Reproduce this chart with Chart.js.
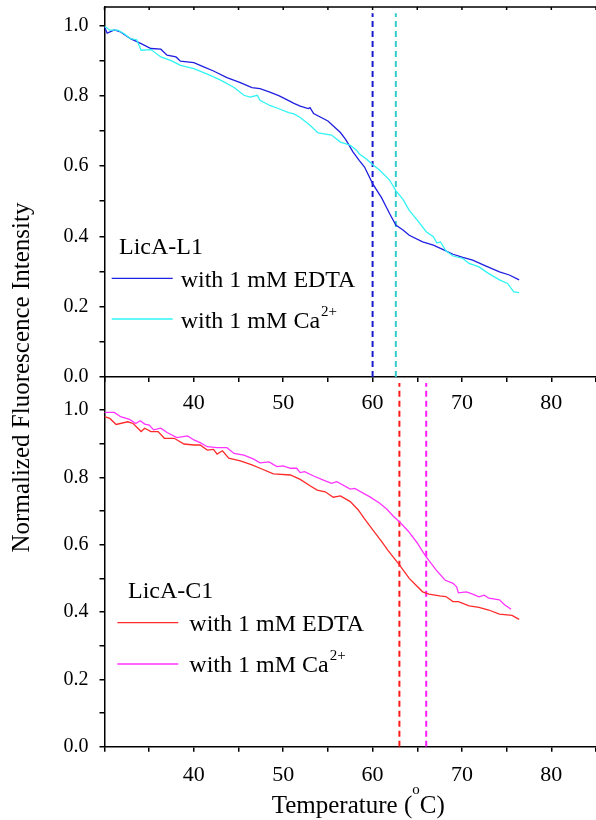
<!DOCTYPE html>
<html>
<head>
<meta charset="utf-8">
<script src="https://cdn.jsdelivr.net/npm/chart.js@4.4.1/dist/chart.umd.min.js"></script>
<style>
  html, body { margin: 0; padding: 0; background: #fff; }
  #wrap { position: relative; width: 596px; height: 820px; }
  #wrap canvas { position: absolute; left: 0; top: 0; }
</style>
</head>
<body>
<div id="wrap">
  <canvas id="bottomChart" width="596" height="820"></canvas>
  <canvas id="topChart" width="596" height="820"></canvas>
</div>
<script>
// LicA-L1, with 1 mM EDTA
const tempL1Edta = [30.0, 30.3, 31.1, 31.8, 32.9, 34.1, 35.2, 36.3, 37.0, 38.0, 38.5, 40.0, 41.1, 42.2, 43.7, 45.2, 46.5, 47.4,
  48.5, 49.5, 50.5, 51.2, 51.9, 52.8, 53.0, 53.4, 55.0, 56.4, 57.0, 57.8, 58.5, 59.1, 60.0, 61.0, 61.9, 62.6, 63.4, 64.1,
  65.6, 66.8, 67.9, 69.0, 70.1, 71.2, 72.7, 74.2, 75.3, 76.4];
const fluoL1Edta = [0.995, 0.978, 0.987, 0.981, 0.962, 0.948, 0.934, 0.932, 0.915, 0.910, 0.898, 0.894, 0.882, 0.870, 0.851, 0.837, 0.823, 0.820,
  0.810, 0.800, 0.787, 0.778, 0.770, 0.763, 0.766, 0.749, 0.728, 0.695, 0.675, 0.640, 0.616, 0.597, 0.550, 0.510, 0.465, 0.432, 0.418, 0.403,
  0.384, 0.375, 0.362, 0.349, 0.340, 0.332, 0.315, 0.299, 0.290, 0.276];

// LicA-L1, with 1 mM Ca2+
const tempL1Ca = [30.0, 30.6, 31.5, 32.2, 32.9, 33.6, 34.1, 35.2, 36.3, 37.4, 38.5, 40.0, 41.5, 43.0, 44.5, 45.6, 46.3, 47.1, 47.4,
  48.5, 49.6, 50.6, 51.2, 51.9, 53.0, 53.9, 55.4, 56.4, 57.5, 58.2, 58.5, 59.3, 60.0, 60.8, 61.9, 62.6, 63.4, 64.1, 65.0,
  66.0, 66.8, 67.2, 67.6, 68.2, 69.0, 70.1, 70.8, 71.9, 73.0, 74.2, 75.1, 75.8, 76.4];
const fluoL1Ca = [0.997, 0.986, 0.986, 0.976, 0.962, 0.959, 0.929, 0.931, 0.910, 0.900, 0.886, 0.877, 0.861, 0.844, 0.823, 0.801, 0.796, 0.801, 0.787,
  0.772, 0.762, 0.752, 0.748, 0.738, 0.716, 0.694, 0.688, 0.668, 0.659, 0.645, 0.635, 0.620, 0.604, 0.588, 0.560, 0.530, 0.505, 0.474, 0.446,
  0.413, 0.399, 0.381, 0.384, 0.359, 0.344, 0.337, 0.323, 0.313, 0.294, 0.276, 0.266, 0.242, 0.240];

// LicA-C1, with 1 mM EDTA
const tempC1Edta = [30.0, 30.6, 31.3, 32.6, 33.2, 34.1, 34.5, 35.2, 36.0, 36.7, 37.8, 38.9, 40.0, 40.7, 41.5, 42.2, 42.6, 43.2, 43.9,
  45.2, 46.5, 47.4, 48.9, 50.8, 51.9, 53.0, 53.8, 54.7, 55.6, 56.4, 57.5, 58.4, 59.0, 60.0, 61.0, 61.7, 63.0, 64.1, 65.6,
  66.3, 67.5, 68.2, 69.0, 69.6, 70.8, 71.9, 73.0, 74.2, 75.6, 76.4];
const fluoC1Edta = [0.980, 0.975, 0.957, 0.965, 0.960, 0.936, 0.946, 0.936, 0.936, 0.916, 0.916, 0.899, 0.896, 0.896, 0.881, 0.883, 0.869, 0.879, 0.857,
  0.849, 0.837, 0.827, 0.810, 0.807, 0.794, 0.775, 0.762, 0.757, 0.741, 0.745, 0.728, 0.703, 0.680, 0.645, 0.610, 0.584, 0.540, 0.500, 0.460,
  0.453, 0.448, 0.446, 0.431, 0.431, 0.418, 0.414, 0.406, 0.394, 0.390, 0.378];

// LicA-C1, with 1 mM Ca2+
const tempC1Ca = [30.0, 31.1, 31.8, 32.8, 33.5, 34.0, 34.5, 35.0, 35.5, 36.3, 37.0, 38.1, 39.3, 40.0, 40.7, 41.5, 42.6, 43.7, 44.5,
  45.6, 46.7, 47.4, 48.4, 49.3, 50.0, 50.8, 51.5, 51.9, 52.4, 53.4, 54.5, 55.4, 56.0, 57.5, 58.0, 59.7, 60.8, 61.6, 62.3,
  63.0, 64.0, 65.0, 65.5, 66.0, 67.1, 68.1, 69.0, 69.4, 69.6, 70.5, 71.2, 71.9, 72.5, 73.0, 74.2, 74.8, 75.5];
const fluoC1Ca = [0.993, 0.993, 0.980, 0.972, 0.960, 0.968, 0.958, 0.955, 0.941, 0.946, 0.933, 0.918, 0.923, 0.911, 0.903, 0.891, 0.888, 0.888, 0.871,
  0.866, 0.854, 0.843, 0.846, 0.832, 0.834, 0.827, 0.827, 0.814, 0.817, 0.804, 0.792, 0.782, 0.787, 0.765, 0.767, 0.742, 0.723, 0.705, 0.685,
  0.668, 0.640, 0.605, 0.584, 0.564, 0.525, 0.495, 0.485, 0.475, 0.457, 0.460, 0.453, 0.445, 0.450, 0.441, 0.436, 0.421, 0.408];

// transition temperatures (dashed markers): [EDTA, Ca2+]
const midL1 = [60.0, 62.6];
const midC1 = [63.0, 66.0];

// axis ticks
const xTickValues = [30, 35, 40, 45, 50, 55, 60, 65, 70, 75, 80, 85];
const xTickLabels = [40, 50, 60, 70, 80];
const yTickValues = [0, 0.1, 0.2, 0.3, 0.4, 0.5, 0.6, 0.7, 0.8, 0.9, 1.0];
const yTickLabels = [0, 0.2, 0.4, 0.6, 0.8, 1.0];

const SERIF = "'Liberation Serif', 'Times New Roman', serif";
Chart.defaults.font.family = SERIF;
Chart.defaults.color = '#000';

function pts(xs, ys) {
    return xs.map((x, i) => ({ x: x, y: ys[i] }));
}

function curve(xs, ys, color) {
    return { data: pts(xs, ys), borderColor: color, borderWidth: 1.3, pointRadius: 0, tension: 0, fill: false };
}

function marker(x, top, color) {
    return { data: [{ x: x, y: 0 }, { x: x, y: top }], borderColor: color, borderWidth: 2, borderDash: [6, 4], pointRadius: 0 };
}

function makeScales(yMax, xAxisHeight, xPad) {
    const axisGrid = { display: true, drawOnChartArea: false, drawTicks: true, tickLength: 5, color: '#000', lineWidth: 1.5 };
    return {
        x: {
            type: 'linear', min: 30, max: 85,
            afterBuildTicks: s => { s.ticks = xTickValues.map(v => ({ value: v })); },
            afterFit: s => { s.height = xAxisHeight; s.paddingLeft = 0; s.paddingRight = 0; },
            ticks: {
                autoSkip: false, maxRotation: 0, padding: xPad,
                font: { size: 22 }, color: '#000',
                callback: v => xTickLabels.includes(v) ? String(v) : ''
            },
            grid: axisGrid,
            border: { display: true, color: '#000', width: 1.5 }
        },
        y: {
            type: 'linear', min: 0, max: yMax,
            afterBuildTicks: s => { s.ticks = yTickValues.map(v => ({ value: v })); },
            afterFit: s => { s.width = 104.5; s.paddingTop = 0; s.paddingBottom = 0; },
            ticks: {
                autoSkip: false, padding: 11,
                font: { size: 20 }, color: '#000',
                callback: v => yTickLabels.includes(v) ? v.toFixed(1) : ''
            },
            grid: axisGrid,
            border: { display: true, color: '#000', width: 1.5 }
        }
    };
}

function drawLegend(ctx, title, tx, ty, items) {
    ctx.fillStyle = '#000';
    ctx.textAlign = 'left';
    ctx.textBaseline = 'alphabetic';
    ctx.font = '24px ' + SERIF;
    ctx.fillText(title, tx, ty);
    items.forEach(it => {
        ctx.strokeStyle = it.color;
        ctx.lineWidth = 1.3;
        ctx.beginPath();
        ctx.moveTo(it.x0, it.y);
        ctx.lineTo(it.x1, it.y);
        ctx.stroke();
        ctx.font = '24px ' + SERIF;
        ctx.fillText(it.text, it.tx, it.ty);
        if (it.sup) {
            const w = ctx.measureText(it.text).width;
            ctx.font = '15px ' + SERIF;
            ctx.fillText(it.sup, it.tx + w + 1, it.ty - 12);
        }
    });
}

const commonOptions = {
    responsive: false,
    animation: false,
    events: [],
    plugins: { legend: { display: false }, tooltip: { enabled: false } }
};

// Top panel: LicA-L1
new Chart(document.getElementById('topChart').getContext('2d'), {
    type: 'line',
    data: {
        datasets: [
            curve(tempL1Ca, fluoL1Ca, '#30f4f4'),
            curve(tempL1Edta, fluoL1Edta, '#2020e0'),
            marker(midL1[0], 1.034, '#1a1ad0'),
            marker(midL1[1], 1.034, '#33cccc')
        ]
    },
    options: Object.assign({}, commonOptions, {
        layout: { padding: { top: 7, left: 0, right: 0, bottom: 0 } },
        scales: makeScales(1.052, 443, 8)
    }),
    plugins: [{
        id: 'topDecor',
        afterDraw(chart) {
            const { ctx, chartArea, scales } = chart;
            ctx.save();
            // top frame with small inward ticks
            ctx.strokeStyle = '#000';
            ctx.lineWidth = 1.5;
            ctx.beginPath();
            ctx.moveTo(chartArea.left, chartArea.top);
            ctx.lineTo(chartArea.right, chartArea.top);
            xTickValues.forEach(v => {
                const px = scales.x.getPixelForValue(v);
                ctx.moveTo(px, chartArea.top);
                ctx.lineTo(px, chartArea.top + 3);
            });
            ctx.stroke();

            drawLegend(ctx, 'LicA-L1', 119, 254, [
                { color: '#2020e0', x0: 111.7, x1: 172.7, y: 278.3, text: 'with 1 mM EDTA', tx: 180.7, ty: 287.3 },
                { color: '#30f4f4', x0: 111.7, x1: 172.7, y: 319, text: 'with 1 mM Ca', sup: '2+', tx: 180.7, ty: 327.7 }
            ]);

            // shared y axis title
            ctx.translate(28.5, 377.5);
            ctx.rotate(-Math.PI / 2);
            ctx.font = '25px ' + SERIF;
            ctx.textAlign = 'center';
            ctx.textBaseline = 'alphabetic';
            ctx.fillStyle = '#000';
            ctx.fillText('Normalized Fluorescence Intensity', 0, 0);
            ctx.restore();
        }
    }]
});

// Bottom panel: LicA-C1
new Chart(document.getElementById('bottomChart').getContext('2d'), {
    type: 'line',
    data: {
        datasets: [
            curve(tempC1Ca, fluoC1Ca, '#ff33ff'),
            curve(tempC1Edta, fluoC1Edta, '#ff2a2a'),
            marker(midC1[0], 1.08, '#ff1a1a'),
            marker(midC1[1], 1.08, '#ff1aff')
        ]
    },
    options: Object.assign({}, commonOptions, {
        layout: { padding: { top: 377, left: 0, right: 0, bottom: 0 } },
        scales: makeScales(1.098, 73.3, 10)
    }),
    plugins: [{
        id: 'bottomDecor',
        afterDraw(chart) {
            const ctx = chart.ctx;
            ctx.save();
            drawLegend(ctx, 'LicA-C1', 128, 598.3, [
                { color: '#ff2a2a', x0: 117.3, x1: 178.3, y: 622.7, text: 'with 1 mM EDTA', tx: 189.3, ty: 631 },
                { color: '#ff33ff', x0: 117.3, x1: 178.3, y: 664, text: 'with 1 mM Ca', sup: '2+', tx: 189.3, ty: 672.3 }
            ]);

            // x axis title with superscript degree
            ctx.fillStyle = '#000';
            ctx.textAlign = 'left';
            ctx.textBaseline = 'alphabetic';
            let x = 271.7;
            const base = 813.3;
            ctx.font = '25px ' + SERIF;
            ctx.fillText('Temperature (', x, base);
            x += ctx.measureText('Temperature (').width;
            ctx.font = '15px ' + SERIF;
            ctx.fillText('o', x, base - 19);
            x += ctx.measureText('o').width;
            ctx.font = '25px ' + SERIF;
            ctx.fillText('C)', x, base);
            ctx.restore();
        }
    }]
});
</script>
</body>
</html>
